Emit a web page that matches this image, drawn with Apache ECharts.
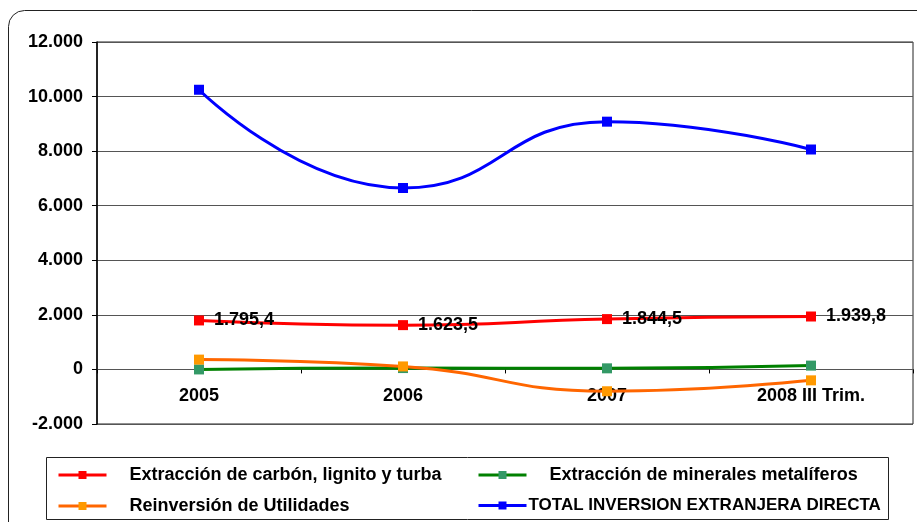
<!DOCTYPE html>
<html>
<head>
<meta charset="utf-8">
<script src="https://cdn.jsdelivr.net/npm/echarts@6/dist/echarts.min.js"></script>
<style>
  html, body { margin: 0; padding: 0; background: #fff; }
  #chart { width: 917px; height: 522px; }
</style>
</head>
<body>
<div id="chart"></div>
<script>
const categories = ["2005", "2006", "2007", "2008 III Trim."];
const carbon = [1795.4, 1623.5, 1844.5, 1939.8];
const minerales = [0, 50, 40, 140];
const reinversion = [360, 110, -800, -400];
const total = [10250, 6650, 9080, 8060];

const names = [
    "Extracción de carbón, lignito y turba",
    "Extracción de minerales metalíferos",
    "Reinversión de Utilidades",
    "TOTAL INVERSION EXTRANJERA DIRECTA"
];

function fmtInt(v) {
    const s = Math.abs(v).toFixed(0).replace(/\B(?=(\d{3})+(?!\d))/g, ".");
    return (v < 0 ? "-" : "") + s;
}
function fmtDec(v) {
    const parts = v.toFixed(1).split(".");
    return parts[0].replace(/\B(?=(\d{3})+(?!\d))/g, ".") + "," + parts[1];
}

const font = "Liberation Sans";
const chart = echarts.init(document.getElementById("chart"));

function lineSeries(name, data, lineColor, markColor, extra) {
    return Object.assign({
        name: name,
        type: "line",
        data: data,
        smooth: 0.5,
        symbol: "rect",
        symbolSize: 10,
        lineStyle: { color: lineColor, width: 3 },
        itemStyle: { color: markColor },
        emphasis: { disabled: true }
    }, extra || {});
}

// zero line sits 12/14 of the way down the plot
const gridTop = 42, gridBottom = 98, plotH = 522 - gridTop - gridBottom;
const zeroOffset = -(plotH * 2 / 14);

const legendText = { fontFamily: font, fontWeight: "bold", fontSize: 18, color: "#000" };

chart.setOption({
    animation: false,
    textStyle: { fontFamily: font },
    grid: {
        left: 97, right: 4, top: gridTop, bottom: gridBottom,
        show: true, borderColor: "#222", borderWidth: 1
    },
    graphic: [
        {
            type: "rect", silent: true, z: -1,
            shape: { x: 8.5, y: 10.5, width: 1000, height: 600, r: 16 },
            style: { fill: "none", stroke: "#222", lineWidth: 1 }
        },
        {
            type: "rect", silent: true,
            shape: { x: 46.5, y: 457.5, width: 842, height: 62 },
            style: { fill: "#fff", stroke: "#222", lineWidth: 1 }
        }
    ],
    legend: [
        {
            orient: "vertical",
            left: 52, top: 461, height: 120,
            itemWidth: 48, itemHeight: 10, itemGap: 13,
            lineStyle: { width: 3 },
            textStyle: Object.assign({ padding: [0, 0, 0, 18] }, legendText),
            data: [names[0], names[2]]
        },
        {
            orient: "vertical",
            left: 472, top: 461, height: 120,
            itemWidth: 48, itemHeight: 10, itemGap: 13,
            lineStyle: { width: 3 },
            textStyle: legendText,
            data: [
                { name: names[1], textStyle: { padding: [0, 0, 0, 18] } },
                { name: names[3], textStyle: { padding: [0, 0, 0, -3], fontSize: 17 } }
            ]
        }
    ],
    xAxis: {
        type: "category",
        data: categories,
        boundaryGap: true,
        position: "bottom",
        offset: zeroOffset,
        axisLine: { onZero: false, lineStyle: { color: "#555", width: 1 } },
        axisTick: { show: true, length: 4, lineStyle: { color: "#000" } },
        axisLabel: { fontFamily: font, fontWeight: "bold", fontSize: 18, color: "#000", margin: 18 }
    },
    yAxis: {
        type: "value",
        min: -2000, max: 12000, interval: 2000,
        axisLine: { show: true, lineStyle: { color: "#000", width: 1.5 } },
        axisTick: { show: true, length: 5, lineStyle: { color: "#000" } },
        axisLabel: {
            fontFamily: font, fontWeight: "bold", fontSize: 18, color: "#000", margin: 14,
            formatter: fmtInt
        },
        splitLine: { lineStyle: { color: "#555", width: 1 } }
    },
    series: [
        lineSeries(names[0], carbon, "#FF0000", "#FF0000", {
            label: {
                show: true, position: "right", distance: 10,
                fontFamily: font, fontWeight: "bold", fontSize: 18, color: "#000",
                formatter: p => fmtDec(p.value)
            }
        }),
        lineSeries(names[1], minerales, "#008000", "#339966"),
        lineSeries(names[2], reinversion, "#FF6600", "#FF9900"),
        lineSeries(names[3], total, "#0000FF", "#0000FF")
    ]
});
</script>
</body>
</html>
